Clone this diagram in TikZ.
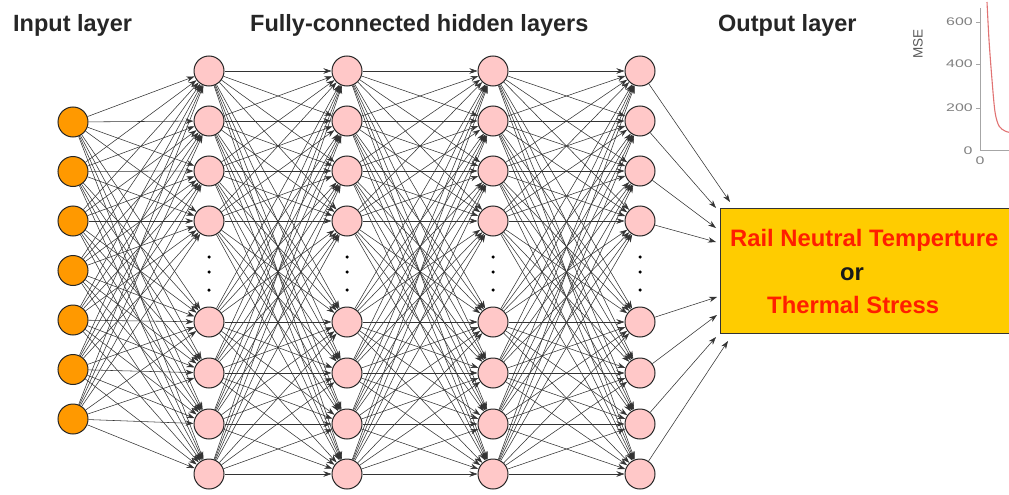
\documentclass[tikz,border=0pt]{standalone}
\usepackage{fontspec}
\usepackage{graphicx}
\setmainfont{Liberation Sans}
\usetikzlibrary{arrows.meta}
\definecolor{inorange}{RGB}{255,153,0}
\definecolor{hidpink}{RGB}{255,200,200}
\definecolor{boxyellow}{RGB}{255,204,0}
\definecolor{boxred}{RGB}{255,30,0}
\definecolor{curvered}{RGB}{225,115,115}
\begin{document}
\begin{tikzpicture}[x=1pt,y=-1pt,
  inputnode/.style={circle,draw=black!85,line width=1pt,fill=inorange,minimum size=30pt,inner sep=0pt},
  hidnode/.style={circle,draw=black!85,line width=1pt,fill=hidpink,minimum size=30pt,inner sep=0pt},
  link/.style={draw=black!80,line width=0.55pt,-{Stealth[length=8pt,width=5.5pt]}},
  header/.style={font=\fontsize{23.5}{26}\selectfont\bfseries,text=black!85,anchor=base west,inner sep=0pt},
  boxtext/.style={font=\fontsize{23.8}{26}\selectfont\bfseries,anchor=base west,inner sep=0pt},
  vdot/.style={circle,fill=black,inner sep=0pt,minimum size=3.5pt},
  axislabel/.style={font=\fontsize{11}{13}\selectfont,text=black!50,inner sep=0pt}]
\useasboundingbox (0,0) rectangle (1009,495);
\clip (0,0) rectangle (1009,495);

% headings
\node[header] (hin)  at (13,32)  {Input layer};
\node[header] (hhid) at (250,32) {Fully-connected hidden layers};
\node[header] (hout) at (718,32) {Output layer};

% input layer
\foreach \i/\y in {1/122,2/171.5,3/221,4/270.5,5/320,6/369.5,7/419}
  \node[inputnode] (in\i) at (73,\y) {};

% hidden layers
\foreach \l/\x in {1/209,2/347,3/493,4/640}{
  \foreach \j/\y in {1/71,2/121,3/171,4/221,5/322,6/373,7/424,8/474}
    \node[hidnode] (h\l-\j) at (\x,\y) {};
  \foreach \k/\y in {1/257,2/272,3/290}
    \node[vdot] (d\l-\k) at (\x,\y) {};
}

% output box
\node[draw=black!80,line width=1.4pt,fill=boxyellow,anchor=north west,
      minimum width=320pt,minimum height=125pt,inner sep=0pt] (out) at (720,208) {};
\node[boxtext,text=boxred] (t1) at (730,246) {Rail Neutral Temperture};
\node[boxtext,text=black!90,anchor=base] (t2) at (852,280) {or};
\node[boxtext,text=boxred] (t3) at (767,313) {Thermal Stress};

% arrow targets on the output box
\foreach \j/\x/\y in {1/730/202,2/716/208,3/716/228,4/716/242,5/717/297,6/717/315,7/716/337,8/728/341}
  \coordinate (o\j) at (\x,\y);

% connections
\foreach \i in {1,...,7}
  \foreach \j in {1,...,8}
    \draw[link] (in\i) -- (h1-\j);
\foreach \l/\n in {1/2,2/3,3/4}
  \foreach \i in {1,...,8}
    \foreach \j in {1,...,8}
      \draw[link] (h\l-\i) -- (h\n-\j);
\foreach \j in {1,...,8}
  \draw[link] (h4-\j) -- (o\j);

% training curve inset
\draw[black!35,line width=0.7pt] (980,8) -- (980,150) -- (1012,150);
\foreach \v/\y in {600/22,400/64,200/108}{
  \draw[black!35,line width=0.6pt] (976,\y) -- (980,\y);
  \node[axislabel,anchor=east] (yl\v) at (973,\y) {\scalebox{1.45}[1]{\v}};
}
\node[axislabel] (yl0) at (968,151) {\scalebox{1.45}[1]{0}};
\node[axislabel] (xl0) at (980,161) {\scalebox{1.45}[1]{0}};
\node[font=\fontsize{13.5}{15}\selectfont,text=black!65,rotate=90,inner sep=0pt] (mse) at (918,44) {MSE};
\draw[curvered,line width=1.1pt] plot[smooth] coordinates {(987,2) (989,40) (992,80) (995,112) (999,126) (1005,131) (1012,133)};
\end{tikzpicture}
\end{document}
